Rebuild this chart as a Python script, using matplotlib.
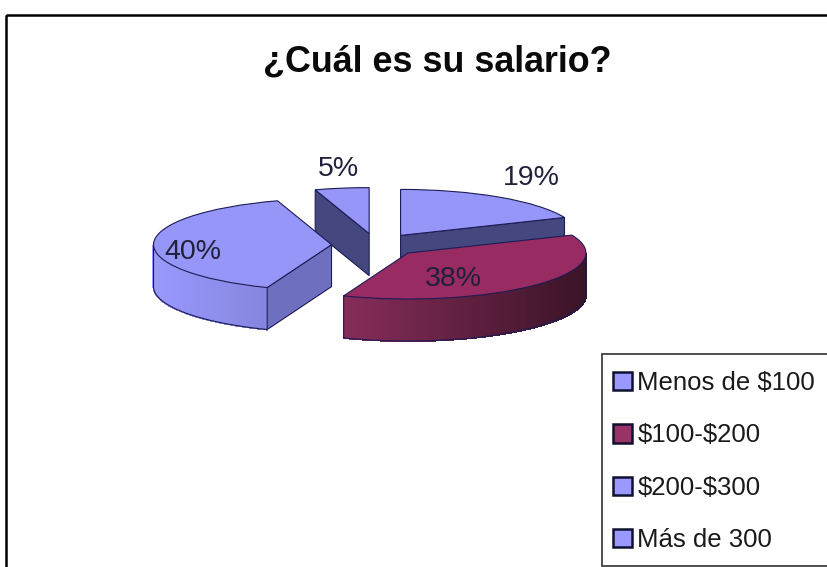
import numpy as np
import matplotlib
matplotlib.use("Agg")
import matplotlib.pyplot as plt
from matplotlib.patches import Patch, Polygon, Rectangle
from matplotlib.transforms import Affine2D

title = "¿Cuál es su salario?"
categories = ["Menos de $100", "$100-$200", "$200-$300", "Más de 300"]
values = [19, 38, 40, 5]
pct_labels = ["19%", "38%", "40%", "5%"]

top_colors = ["#9696f8", "#982b62", "#9696f8", "#9696f8"]
key_colors = ["#9999ff", "#993366", "#9999ff", "#9999ff"]
face_colors = ["#44487f", "#5a1a3c", "#6f6fc0", "#44487f"]
draw_order = [3, 0, 2, 1]
label_xy = [(531, 178), (453, 279), (193, 252), (338, 169)]

W, H = 828, 567
CX, CY, RX, RY = 376, 245, 178, 46
DEPTH = 42 / RY
EDGE = "#1c1c55"

plt.rcParams["font.family"] = ["Liberation Sans", "DejaVu Sans"]
plt.rcParams["text.parse_math"] = False
fig = plt.figure(figsize=(W / 100, H / 100), dpi=100, facecolor="white")
ax = fig.add_axes([0, 0, 1, 1])
px = Affine2D().scale(1, -1).translate(0, H)

wedges, _ = ax.pie(values, explode=[0.25] * 4, startangle=90, counterclock=False,
                   colors=top_colors, wedgeprops=dict(edgecolor=EDGE, linewidth=0.8))
ax.set_aspect("auto")
ax.set_xlim(-CX / RX, (W - CX) / RX)
ax.set_ylim(-(H - CY) / RY, CY / RY)
ax.axis("off")


def shade(color, c):
    f = np.interp(c, [-1, -0.3, 1], [1.0, 0.86, 0.38])
    return tuple(np.array(matplotlib.colors.to_rgb(color)) * f)


for i in draw_order:
    w = wedges[i]
    z = 10 + draw_order.index(i) * 5
    w.set_zorder(z + 2)
    cx, cy = w.center
    # flat cut faces that look toward the viewer
    for ang, normal in ((w.theta1, w.theta1 - 90), (w.theta2, w.theta2 + 90)):
        if np.sin(np.radians(normal)) < -0.01:
            rx, ry = cx + np.cos(np.radians(ang)), cy + np.sin(np.radians(ang))
            ax.add_patch(Polygon([(cx, cy), (rx, ry), (rx, ry - DEPTH), (cx, cy - DEPTH)],
                                 closed=True, facecolor=face_colors[i], edgecolor=EDGE,
                                 linewidth=0.8, zorder=z))
    # curved outer wall
    ts = np.radians(np.linspace(w.theta1, w.theta2, 121))
    for a, b in zip(ts[:-1], ts[1:]):
        if np.sin((a + b) / 2) < 0:
            col = shade(key_colors[i], np.cos((a + b) / 2))
            ax.add_patch(Polygon([(cx + np.cos(a), cy + np.sin(a)),
                                  (cx + np.cos(b), cy + np.sin(b)),
                                  (cx + np.cos(b), cy + np.sin(b) - DEPTH),
                                  (cx + np.cos(a), cy + np.sin(a) - DEPTH)],
                                 closed=True, facecolor=col, edgecolor=col,
                                 linewidth=0.8, antialiased=False, zorder=z + 1))
    front = ts[np.sin(ts) < 0]
    if len(front):
        xs = cx + np.cos(front)
        ys = cy + np.sin(front)
        ax.plot(np.r_[xs[0], xs, xs[-1]], np.r_[ys[0], ys - DEPTH, ys[-1]],
                color=EDGE, linewidth=0.8, zorder=z + 1.5)

for txt, (x, y) in zip(pct_labels, label_xy):
    ax.text(x, y, txt, transform=px, fontsize=20.5, ha="center", va="center",
            color="#20203a", zorder=60)

ax.text(437.5, 62, title, transform=px, fontsize=25.8, fontweight="bold",
        ha="center", va="center", color="#0a0a0a", zorder=60)

# outer chart frame, running off the right and bottom of the picture
fig.add_artist(Rectangle((6, 15), W + 20, H + 20, transform=px, fill=False,
                         edgecolor="black", linewidth=1.8))
# legend box, running off the right of the picture
fig.add_artist(Rectangle((602, 354), W, 212, transform=px, facecolor="white",
                         edgecolor="#303030", linewidth=1.2))

handles = [Patch(facecolor=c, edgecolor="#101030", linewidth=1.8) for c in key_colors]
leg = fig.legend(handles, categories, loc="upper left",
                 bbox_to_anchor=(599 / W, 1 - 357 / H), bbox_transform=fig.transFigure,
                 borderaxespad=0, borderpad=0.55, labelspacing=1.1, handlelength=0.72,
                 handleheight=0.72, handletextpad=0.22, prop=dict(size=18.5),
                 frameon=False, labelcolor="#1a1a1a")
leg.set_zorder(70)

fig.savefig("out.png", dpi=100)
